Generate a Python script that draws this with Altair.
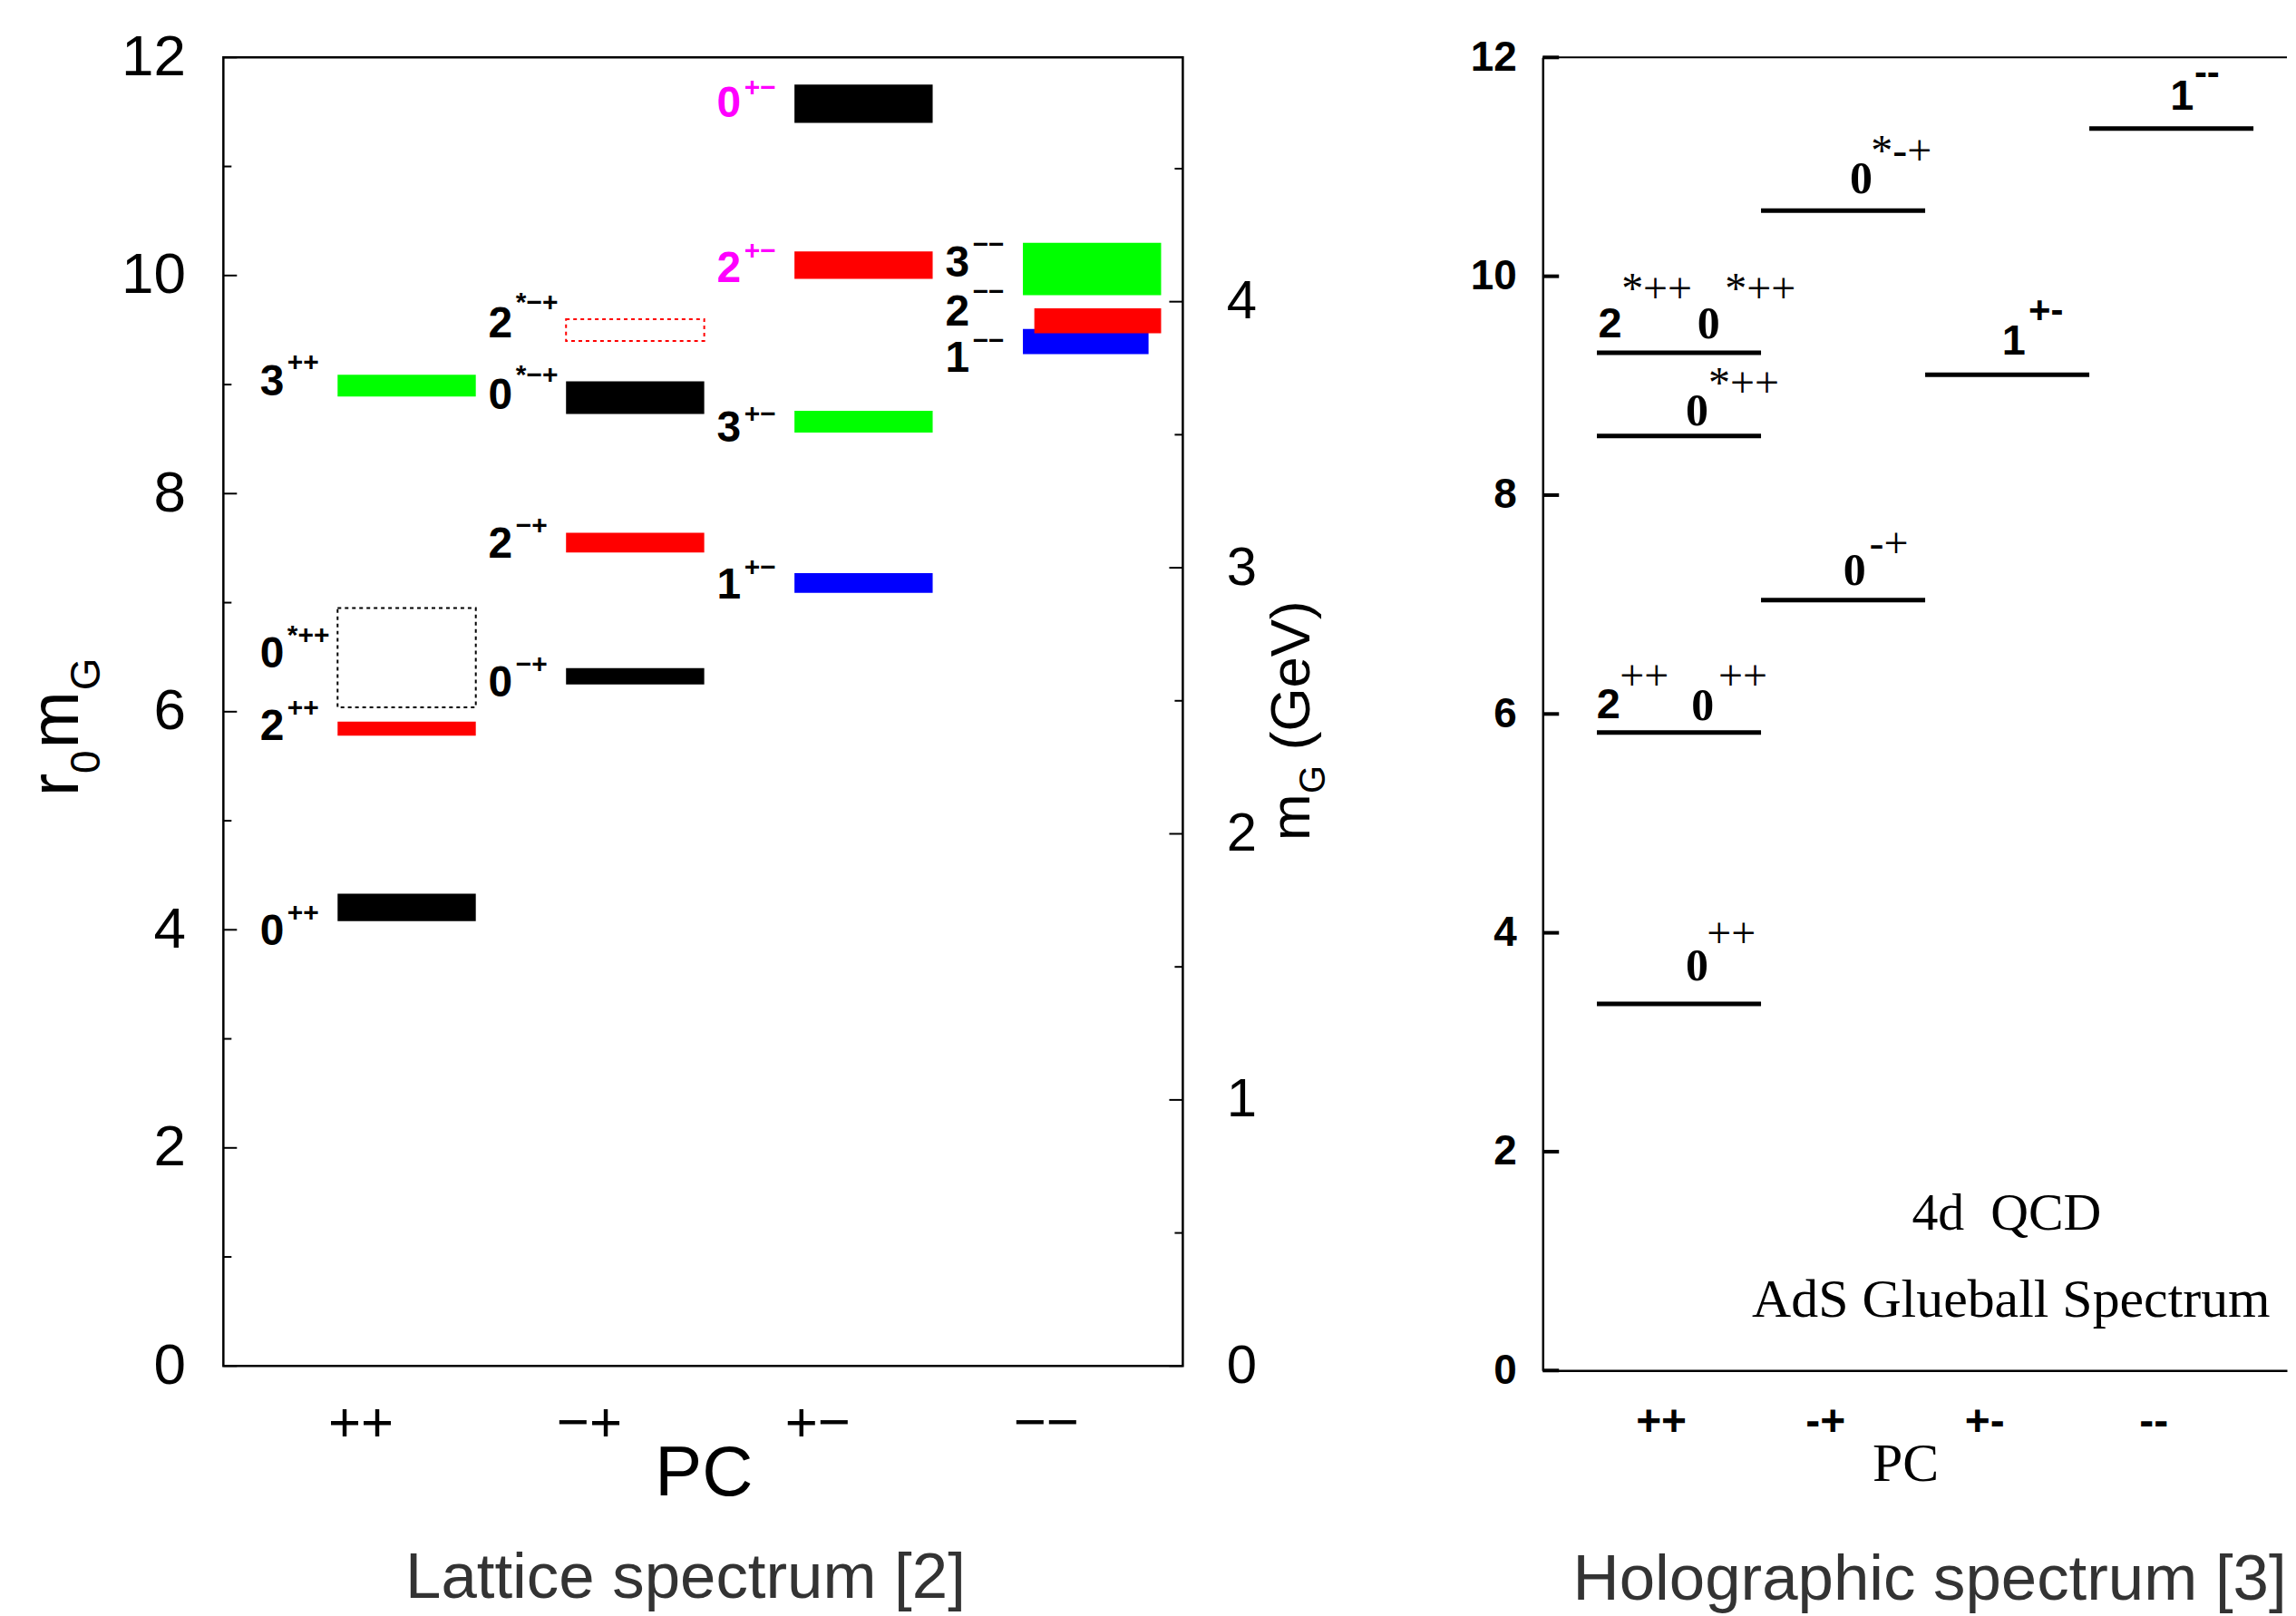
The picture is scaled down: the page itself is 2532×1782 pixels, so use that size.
import json
import altair as alt
import pandas as pd

SANS = "Liberation Sans"
SERIF = "Liberation Serif"

# ================= Lattice spectrum (left panel) =================
pc_left = ["++", "−+", "+−", "−−"]
pc_left_pos = [0.6, 1.6, 2.6, 3.6]

# solid bars: PC column, spin J, lower / upper edge in r0*mG
bar_col = [0, 0, 0, 1, 1, 1, 2, 2, 2, 2, 3, 3, 3]
bar_J = [0, 2, 3, 0, 2, 0, 1, 3, 2, 0, 3, 1, 2]
bar_lo = [4.08, 5.78, 8.89, 6.25, 7.46, 8.73, 7.09, 8.56, 9.97, 11.40, 9.82, 9.28, 9.47]
bar_hi = [4.33, 5.91, 9.09, 6.40, 7.64, 9.03, 7.27, 8.76, 10.22, 11.75, 10.30, 9.51, 9.70]
bar_start = [0.5] * 12 + [0.55]
bar_end = [1.105] * 11 + [1.05, 1.105]

# dotted (uncertain) states
box_col = [0, 1]
box_J = [0, 2]
box_lo = [6.04, 9.40]
box_hi = [6.95, 9.60]

# state labels
lab_digit = ["0", "2", "0", "3", "0", "2", "0", "2", "1", "3", "2", "0", "3", "2", "1"]
lab_sup = ["++", "++", "*++", "++", "−+", "−+", "*−+", "*−+", "+−", "+−", "+−", "+−", "−−", "−−", "−−"]
lab_col = [0, 0, 0, 0, 1, 1, 1, 1, 2, 2, 2, 2, 3, 3, 3]
lab_y = [3.98, 5.86, 6.52, 9.02, 6.26, 7.53, 8.89, 9.55, 7.15, 8.59, 10.06, 11.57, 10.11, 9.66, 9.23]
lab_sup_y = [4.15, 6.03, 6.70, 9.20, 6.43, 7.70, 9.08, 9.75, 7.32, 8.73, 10.22, 11.72, 10.28, 9.85, 9.40]
lab_exotic = [0, 0, 0, 0, 0, 0, 0, 0, 0, 0, 1, 1, 0, 0, 0]

left_major = [0, 2, 4, 6, 8, 10, 12]
left_minor = [1, 3, 5, 7, 9, 11]
gev_major = [0, 1, 2, 3, 4]
gev_minor = [0.5, 1.5, 2.5, 3.5, 4.5]
R0_PER_GEV = 2.44

# ================= Holographic spectrum (right panel) =================
pc_right = ["++", "-+", "+-", "--"]
pc_right_pos = [0.72, 1.72, 2.69, 3.72]

hol_col = [0, 0, 0, 0, 1, 1, 2, 3]
hol_val = [3.35, 5.83, 8.54, 9.30, 7.04, 10.60, 9.10, 11.35]

hd_text = ["2", "0", "0", "2", "0", "0", "0", "0", "1", "1"]
hd_face = ["sans", "serif", "serif", "sans", "serif", "serif", "serif", "serif", "sans", "sans"]
hd_x = [0.41, 1.01, 0.94, 0.40, 0.975, 0.94, 1.94, 1.90, 2.87, 3.895]
hd_y = [9.56, 9.56, 8.76, 6.08, 6.07, 3.69, 10.88, 7.30, 9.40, 11.64]
hs_text = ["*++", "*++", "*++", "++", "++", "++", "*-+", "-+", "+-", "--"]
hs_face = ["serif"] * 8 + ["sans", "sans"]
hs_x = [0.48, 1.11, 1.01, 0.47, 1.07, 1.0, 2.0, 1.99, 2.96, 3.97]
hs_y = [9.87, 9.87, 9.01, 6.33, 6.33, 3.98, 11.13, 7.54, 9.68, 11.85]

right_major = [0, 2, 4, 6, 8, 10, 12]

# ================= geometry =================
W1, H1 = 1061, 1447
W2, H2 = 823, 1452
X1MAX = 4.2
X2MAX = 4.534

J_scale = alt.Scale(domain=[0, 1, 2, 3], range=["#000000", "#0000ff", "#ff0000", "#00ff00"])

xs1 = alt.Scale(domain=[0, X1MAX], nice=False, zero=False)
ys1 = alt.Scale(domain=[0, 12], nice=False, zero=False)
gs1 = alt.Scale(domain=[0, 12 / R0_PER_GEV], nice=False, zero=False)

expr1 = json.dumps(pc_left) + "[round(datum.value - %s)]" % pc_left_pos[0]
xaxis1 = alt.Axis(values=pc_left_pos, labelExpr=expr1, ticks=False, tickSize=0, domain=False,
                  grid=False, labelFont=SANS, labelFontSize=62, labelPadding=63,
                  labelBaseline="middle", labelColor="black", labelOverlap=False, labelFlush=False,
                  title="PC", titleFont=SANS, titleFontSize=78, titleFontWeight="normal",
                  titleX=531, titleY=143, titleAlign="center", titleBaseline="alphabetic",
                  titleColor="black")
yaxis1 = alt.Axis(values=left_major, ticks=False, tickSize=0, domain=False, grid=False,
                  labelFont=SANS, labelFontSize=64, labelPadding=42, labelColor="black",
                  labelBaseline="middle", format="d", title="")
gaxis1 = alt.Axis(orient="right", values=gev_major, ticks=False, tickSize=0, domain=False,
                  grid=False, labelFont=SANS, labelFontSize=60, labelPadding=48,
                  labelColor="black", labelBaseline="middle", format="d", title="")

bars_df = pd.DataFrame(dict(col=bar_col, J=bar_J, lo=bar_lo, hi=bar_hi, xs=bar_start, xe=bar_end))
bars_df["x0"] = bars_df["col"] + bars_df["xs"]
bars_df["x1"] = bars_df["col"] + bars_df["xe"]

box_df = pd.DataFrame(dict(col=box_col, J=box_J, lo=box_lo, hi=box_hi))
box_df["x0"] = box_df["col"] + 0.5
box_df["x1"] = box_df["col"] + 1.105

lab_df = pd.DataFrame(dict(digit=lab_digit, sup=lab_sup, col=lab_col, y=lab_y, sy=lab_sup_y,
                           exotic=lab_exotic))
lab_df["dx"] = lab_df["col"] + 0.16
lab_df["sx"] = lab_df["col"] + 0.28

lab_color = alt.condition(alt.datum.exotic == 1, alt.value("#ff00ff"), alt.value("#000000"))

X1 = lambda f: alt.X(f, scale=xs1, axis=xaxis1)
Y1 = lambda f: alt.Y(f, scale=ys1, axis=yaxis1)

bars = alt.Chart(bars_df).mark_rect().encode(
    x=X1("x0:Q"), x2="x1:Q", y=Y1("lo:Q"), y2="hi:Q",
    color=alt.Color("J:O", scale=J_scale, legend=None),
)

boxes = alt.Chart(box_df).mark_rect(fill="transparent", strokeDash=[4, 4], strokeWidth=2).encode(
    x=X1("x0:Q"), x2="x1:Q", y=Y1("lo:Q"), y2="hi:Q",
    stroke=alt.Color("J:O", scale=J_scale, legend=None),
)

digits = alt.Chart(lab_df).mark_text(font=SANS, fontWeight="bold", fontSize=48, align="left",
                                     baseline="middle").encode(
    x=X1("dx:Q"), y=Y1("y:Q"), text="digit:N", color=lab_color,
)
sups = alt.Chart(lab_df).mark_text(font=SANS, fontWeight="bold", fontSize=30, align="left",
                                   baseline="middle").encode(
    x=X1("sx:Q"), y=Y1("sy:Q"), text="sup:N", color=lab_color,
)

lt_major = alt.Chart(pd.DataFrame({"v": left_major})).mark_rule(color="black", strokeWidth=2).encode(
    y=Y1("v:Q"), x=alt.value(0), x2=alt.value(15))
lt_minor = alt.Chart(pd.DataFrame({"v": left_minor})).mark_rule(color="black", strokeWidth=2).encode(
    y=Y1("v:Q"), x=alt.value(0), x2=alt.value(9))


def label(text, x, y, size, font=SANS, weight="normal", angle=0, align="left",
          baseline="alphabetic", color="black"):
    kw = dict(font=font, fontSize=size, fontWeight=weight, align=align, baseline=baseline,
              color=color)
    if angle:
        kw["angle"] = angle
    return alt.Chart(pd.DataFrame({"t": [text]})).mark_text(**kw).encode(
        text="t:N", x=alt.value(x), y=alt.value(y))


ytitle = [
    label("r", -161, 817, 76, angle=270),
    label("0", -137, 792, 46, angle=270),
    label("m", -161, 764, 76, angle=270),
    label("G", -137, 700, 46, angle=270),
]
gtitle = [
    label("m", W1 + 140, 866, 62, angle=270),
    label("G", W1 + 157, 814, 40, angle=270),
    label("(GeV)", W1 + 140, 766, 62, angle=270),
]
lattice_caption = label("Lattice spectrum [2]", 511, 1703, 71, align="center", color="#333333")

left_main = alt.layer(bars, boxes, digits, sups, lt_major, lt_minor, *ytitle, *gtitle,
                      lattice_caption)

G1 = lambda f: alt.Y(f, scale=gs1, axis=gaxis1)
gt_major = alt.Chart(pd.DataFrame({"g": gev_major})).mark_rule(color="black", strokeWidth=2).encode(
    y=G1("g:Q"), x=alt.value(W1 - 15), x2=alt.value(W1))
gt_minor = alt.Chart(pd.DataFrame({"g": gev_minor})).mark_rule(color="black", strokeWidth=2).encode(
    y=G1("g:Q"), x=alt.value(W1 - 9), x2=alt.value(W1))
gev_layer = alt.layer(gt_major, gt_minor)

left = alt.layer(left_main, gev_layer).resolve_scale(y="independent").properties(
    width=W1, height=H1, view=alt.ViewBackground(stroke="black", strokeWidth=2.5))

# ---------------- right panel ----------------
xs2 = alt.Scale(domain=[0, X2MAX], nice=False, zero=False)
ys2 = alt.Scale(domain=[0, 12], nice=False, zero=False)
expr2 = json.dumps(pc_right) + "[round(datum.value - %s)]" % pc_right_pos[0]
xaxis2 = alt.Axis(values=pc_right_pos, labelExpr=expr2, ticks=False, tickSize=0, domain=True,
                  domainColor="black", domainWidth=2.5, grid=False, labelFont=SANS,
                  labelFontWeight="bold", labelFontSize=48, labelPadding=57,
                  labelBaseline="middle", labelColor="black", labelOverlap=False,
                  labelFlush=False, title="PC", titleFont=SERIF, titleFontSize=60,
                  titleFontWeight="normal", titleX=401, titleY=122, titleAlign="center",
                  titleBaseline="alphabetic", titleColor="black")
yaxis2 = alt.Axis(values=right_major, ticks=False, tickSize=0, domain=True, domainColor="black",
                  domainWidth=2.5, grid=False, labelFont=SANS, labelFontWeight="bold",
                  labelFontSize=46, labelPadding=29, labelColor="black", labelBaseline="middle",
                  format="d", title="")

X2 = lambda f: alt.X(f, scale=xs2, axis=xaxis2)
Y2 = lambda f: alt.Y(f, scale=ys2, axis=yaxis2)

hol_df = pd.DataFrame(dict(col=hol_col, v=hol_val))
hol_df["x0"] = hol_df["col"] + 0.33
hol_df["x1"] = hol_df["col"] + 1.33

hd_df = pd.DataFrame(dict(t=hd_text, face=hd_face, x=hd_x, y=hd_y))
hs_df = pd.DataFrame(dict(t=hs_text, face=hs_face, x=hs_x, y=hs_y))

levels = alt.Chart(hol_df).mark_rule(color="black", strokeWidth=5).encode(
    x=X2("x0:Q"), x2="x1:Q", y=Y2("v:Q"),
)


def hol_text(df, face, font, weight, size, align):
    return alt.Chart(df).transform_filter(alt.datum.face == face).mark_text(
        font=font, fontWeight=weight, fontSize=size, align=align, baseline="middle",
        color="black").encode(x=X2("x:Q"), y=Y2("y:Q"), text="t:N")


hd_sans = hol_text(hd_df, "sans", SANS, "bold", 47, "center")
hd_serif = hol_text(hd_df, "serif", SERIF, "bold", 50, "center")
hs_serif = hol_text(hs_df, "serif", SERIF, "normal", 48, "left")
hs_sans = hol_text(hs_df, "sans", SANS, "bold", 42, "left")

rt_major = alt.Chart(pd.DataFrame({"v": right_major})).mark_rule(color="black", strokeWidth=4).encode(
    y=Y2("v:Q"), x=alt.value(0), x2=alt.value(18))
top_line = alt.Chart(pd.DataFrame({"v": [12]})).mark_rule(color="black", strokeWidth=2).encode(
    y=Y2("v:Q"), x=alt.value(0), x2=alt.value(W2))

qcd = label("4d\u00a0\u00a0QCD", 513, 1296, 58, font=SERIF, align="center")
ads = label("AdS Glueball Spectrum", 518, 1393, 60, font=SERIF, align="center")
holo_caption = label("Holographic spectrum [3]", 428, 1705, 71, align="center", color="#333333")

right = alt.layer(levels, hd_sans, hd_serif, hs_serif, hs_sans, rt_major, top_line, qcd, ads,
                  holo_caption).properties(
    width=W2, height=H2, view=alt.ViewBackground(stroke="transparent"))

chart = alt.hconcat(left, right, spacing=150).properties(
    padding={"left": 15, "top": 19, "right": 0, "bottom": 0}
).configure(font=SANS).configure_view(stroke="transparent")

chart.save("out.html", embed_options={"renderer": "svg", "actions": False})
